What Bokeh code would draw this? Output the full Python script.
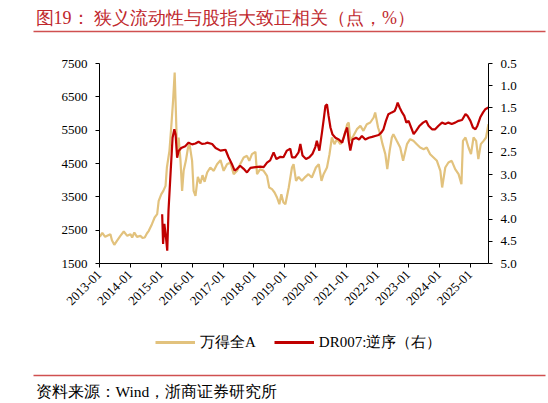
import math
import pandas as pd
from bokeh.plotting import figure
from bokeh.layouts import column, row
from bokeh.models import (Range1d, LinearAxis, FixedTicker, Legend, LegendItem, Label, BoxAnnotation,
                          DatetimeTickFormatter, PrintfTickFormatter, ColumnDataSource)
from bokeh.embed import file_html
from bokeh.resources import INLINE

# ---------------- data ----------------
wind_dates = [
    "2013-01-04", "2013-02-03", "2013-03-09", "2013-04-08", "2013-05-10", "2013-05-28", "2013-06-25",
    "2013-07-26", "2013-09-05", "2013-10-15", "2013-11-25", "2014-01-03", "2014-01-22", "2014-02-17",
    "2014-03-20", "2014-04-29", "2014-05-25", "2014-06-20", "2014-07-15", "2014-08-07", "2014-09-13",
    "2014-10-15", "2014-11-14", "2014-12-02", "2015-01-02", "2015-01-26", "2015-02-21", "2015-03-09",
    "2015-04-08", "2015-04-29", "2015-05-21", "2015-06-09", "2015-06-23", "2015-07-08", "2015-07-26",
    "2015-08-17", "2015-09-05", "2015-09-23", "2015-10-19", "2015-11-14", "2015-12-02", "2016-01-01",
    "2016-01-19", "2016-02-10", "2016-03-09", "2016-04-08", "2016-05-03", "2016-05-28", "2016-06-27",
    "2016-08-03", "2016-09-13", "2016-10-22", "2016-12-02", "2017-01-08", "2017-02-17", "2017-03-27",
    "2017-05-07", "2017-06-16", "2017-07-22", "2017-09-02", "2017-10-11", "2017-11-07", "2017-12-09",
    "2018-01-19", "2018-02-07", "2018-03-16", "2018-04-26", "2018-06-05", "2018-07-01", "2018-08-03",
    "2018-09-02", "2018-10-01", "2018-10-29", "2018-11-21", "2018-12-16", "2019-01-08", "2019-02-17",
    "2019-03-27", "2019-04-15", "2019-05-14", "2019-06-13", "2019-07-22", "2019-09-02", "2019-10-08",
    "2019-11-17", "2020-01-04", "2020-02-07", "2020-03-10", "2020-04-04", "2020-05-14", "2020-06-13",
    "2020-07-11", "2020-08-10", "2020-09-09", "2020-10-19", "2020-11-28", "2021-01-08", "2021-01-26",
    "2021-02-14", "2021-03-23", "2021-05-03", "2021-06-13", "2021-07-19", "2021-08-28", "2021-10-08",
    "2021-11-17", "2021-12-05", "2022-01-08", "2022-02-03", "2022-03-02", "2022-04-04", "2022-04-27",
    "2022-05-25", "2022-06-20", "2022-07-08", "2022-08-17", "2022-09-27", "2022-10-31", "2022-12-16",
    "2023-01-22", "2023-03-02", "2023-04-11", "2023-05-21", "2023-07-01", "2023-08-07", "2023-09-16",
    "2023-10-26", "2023-12-05", "2024-01-15", "2024-02-05", "2024-03-13", "2024-04-19", "2024-05-28",
    "2024-07-08", "2024-08-17", "2024-09-20", "2024-10-08", "2024-11-07", "2024-12-13", "2025-01-11",
    "2025-02-10", "2025-03-13", "2025-04-08", "2025-05-07", "2025-06-09", "2025-07-08", "2025-08-05",
]
wind_values = [
    2300, 2420, 2300, 2340, 2380, 2200, 2060,
    2180, 2330, 2460, 2330, 2380, 2280, 2430,
    2300, 2330, 2270, 2280, 2400, 2480, 2680,
    2880, 2980, 3380, 3580, 3680, 3830, 4380,
    4880, 5580, 6380, 7230, 6080, 4780, 5280,
    4580, 3680, 4280, 4580, 4980, 5080, 4580,
    3680, 3530, 4100, 3900, 4150, 3950, 4230,
    4380, 4280, 4480, 4600, 4280, 4480, 4530,
    4180, 4280, 4480, 4680, 4730, 4580, 4780,
    4850, 4180, 4330, 4280, 4130, 3780, 3730,
    3630, 3480, 3280, 3580, 3330, 3280, 3780,
    4380, 4480, 3980, 4100, 3980, 4100, 4180,
    4080, 4380, 4480, 3980, 4180, 4380, 4780,
    5280, 5080, 5230, 5080, 5280, 5680, 5730,
    5180, 5330, 5530, 5630, 5480, 5680, 5730,
    5880, 6030, 5580, 5380, 5080, 4780, 4330,
    4880, 5280, 5380, 5180, 4980, 4580, 5080,
    5230, 5180, 5080, 4980, 4930, 4980, 4780,
    4680, 4580, 4280, 3780, 4380, 4530, 4580,
    4330, 4180, 3880, 5180, 5280, 4980, 4780,
    5280, 5180, 4630, 5080, 5180, 5280, 5680,
]

dr_dates = [
    "2015-01-12", "2015-01-23", "2015-02-07", "2015-02-28", "2015-03-13", "2015-03-28", "2015-04-23",
    "2015-05-15", "2015-06-05", "2015-06-20", "2015-07-08", "2015-07-26", "2015-08-25", "2015-10-12",
    "2015-11-21", "2016-01-01", "2016-02-10", "2016-03-17", "2016-04-26", "2016-06-06", "2016-06-27",
    "2016-08-25", "2016-10-05", "2016-12-02", "2017-01-30", "2017-03-07", "2017-04-15", "2017-05-18",
    "2017-06-16", "2017-07-22", "2017-09-02", "2017-10-11", "2017-11-21", "2018-01-19", "2018-03-16",
    "2018-04-26", "2018-06-05", "2018-07-12", "2018-08-22", "2018-09-24", "2018-11-10", "2018-12-16",
    "2019-01-26", "2019-03-07", "2019-03-27", "2019-05-03", "2019-06-13", "2019-07-04", "2019-07-30",
    "2019-09-09", "2019-10-19", "2019-11-25", "2019-12-28", "2020-01-15", "2020-02-14", "2020-03-16",
    "2020-04-08", "2020-04-26", "2020-05-14", "2020-06-02", "2020-06-24", "2020-07-19", "2020-08-22",
    "2020-10-01", "2020-11-10", "2020-12-16", "2021-01-08", "2021-01-26", "2021-02-14", "2021-03-13",
    "2021-04-22", "2021-05-29", "2021-07-01", "2021-08-10", "2021-09-20", "2021-10-30", "2021-12-05",
    "2022-01-15", "2022-02-17", "2022-03-13", "2022-04-11", "2022-05-10", "2022-06-20", "2022-07-23",
    "2022-08-10", "2022-08-28", "2022-09-20", "2022-10-19", "2022-11-14", "2022-12-09", "2023-01-04",
    "2023-02-03", "2023-03-05", "2023-04-05", "2023-05-15", "2023-06-24", "2023-07-30", "2023-08-28",
    "2023-10-08", "2023-11-14", "2023-12-24", "2024-02-03", "2024-03-13", "2024-04-19", "2024-05-28",
    "2024-07-08", "2024-08-17", "2024-09-27", "2024-11-07", "2024-12-02", "2025-01-04", "2025-02-03",
    "2025-03-05", "2025-03-28", "2025-05-01", "2025-06-03", "2025-06-28", "2025-08-05",
]
dr_values = [
    3.89, 4.56, 4.11, 4.45, 4.71, 3.81, 2.91,
    2.17, 1.98, 2.10, 2.62, 2.47, 2.40, 2.36,
    2.28, 2.32, 2.30, 2.26, 2.31, 2.30, 2.28,
    2.31, 2.40, 2.46, 2.44, 2.61, 2.76, 2.91,
    2.87, 2.80, 2.87, 2.95, 2.85, 2.83, 2.82,
    2.83, 2.73, 2.68, 2.50, 2.65, 2.60, 2.61,
    2.46, 2.42, 2.61, 2.61, 2.50, 2.31, 2.57,
    2.65, 2.61, 2.53, 2.38, 2.24, 2.46, 2.05,
    1.72, 1.45, 1.42, 1.68, 1.94, 2.10, 2.17,
    2.21, 2.28, 2.05, 1.94, 2.24, 2.46, 2.21,
    2.17, 2.21, 2.13, 2.21, 2.17, 2.15, 2.13,
    2.11, 2.05, 1.98, 1.79, 1.64, 1.60, 1.57,
    1.49, 1.38, 1.49, 1.60, 1.68, 1.83, 1.79,
    1.94, 2.09, 2.01, 1.90, 1.83, 1.79, 1.90,
    1.98, 1.98, 1.90, 1.83, 1.86, 1.83, 1.86,
    1.83, 1.79, 1.77, 1.64, 1.68, 1.79, 1.94,
    1.98, 1.90, 1.71, 1.60, 1.53, 1.49,
]

tick_years = list(range(2013, 2026))
left_ticks = [1500, 2500, 3500, 4500, 5500, 6500, 7500]
right_ticks = [0.5, 1.0, 1.5, 2.0, 2.5, 3.0, 3.5, 4.0, 4.5, 5.0]

series_names = ["万得全A", "DR007:逆序（右）"]
title_text = "图19：  狭义流动性与股指大致正相关（点，%）"
source_text = "资料来源：Wind，浙商证券研究所"

# ---------------- styles ----------------
YELLOW = "#E2C27D"
RED = "#C00000"
TITLE_RED = "#C0282D"
RULE_RED = "#D05050"
FONT = "Liberation Serif"
W = 548
HEAD_H, MAIN_H, LEG_H, SRC_H = 40, 285, 52, 26


def strip(h):
    # frame spans the whole strip; data units equal pixels (x from left, y from bottom)
    f = figure(width=W, height=h, output_backend="svg", toolbar_location=None,
               x_range=Range1d(0, W), y_range=Range1d(0, h),
               x_axis_location=None, y_axis_location=None,
               min_border=0, min_border_left=0, min_border_right=0,
               min_border_top=0, min_border_bottom=0)
    f.xgrid.visible = False
    f.ygrid.visible = False
    f.outline_line_color = None
    f.background_fill_color = "white"
    f.border_fill_color = "white"
    return f


def rule(f, y):
    f.add_layout(BoxAnnotation(left=33, right=545, bottom=y - 0.75, top=y + 0.75,
                               fill_color=RULE_RED, fill_alpha=1.0, line_color=None))


# ---------------- header: title + rule ----------------
head = strip(HEAD_H)
head.add_layout(Label(x=35, y=HEAD_H - 17, text=title_text, text_baseline="middle",
                      text_color=TITLE_RED, text_font=FONT, text_font_size="18px"))
rule(head, HEAD_H - 31)

# ---------------- main chart ----------------
wind_src = ColumnDataSource(dict(date=pd.to_datetime(wind_dates), v=wind_values))
dr_src = ColumnDataSource(dict(date=pd.to_datetime(dr_dates), v=dr_values))

p = figure(width=W, height=MAIN_H, output_backend="svg", toolbar_location=None,
           x_axis_type="datetime",
           x_range=Range1d(pd.Timestamp("2013-01-01"), pd.Timestamp("2025-08-06")),
           y_range=Range1d(left_ticks[0], left_ticks[-1]),
           min_border_left=99, min_border_right=W - 488, min_border_top=23,
           min_border_bottom=MAIN_H - 223)
p.extra_y_ranges = {"dr": Range1d(right_ticks[-1], right_ticks[0])}
p.add_layout(LinearAxis(y_range_name="dr"), "right")

p.xgrid.visible = False
p.ygrid.visible = False
p.outline_line_color = None
p.background_fill_color = "white"
p.border_fill_color = "white"

p.xaxis.ticker = FixedTicker(ticks=[pd.Timestamp(f"{y}-01-01").value // 10**6 for y in tick_years])
p.xaxis.formatter = DatetimeTickFormatter(
    milliseconds="%Y-%m", seconds="%Y-%m", minsec="%Y-%m", minutes="%Y-%m", hourmin="%Y-%m",
    hours="%Y-%m", days="%Y-%m", months="%Y-%m", years="%Y-%m")
p.xaxis.major_label_orientation = math.pi / 4
p.yaxis[0].ticker = FixedTicker(ticks=left_ticks)
p.yaxis[1].ticker = FixedTicker(ticks=right_ticks)
p.yaxis[1].formatter = PrintfTickFormatter(format="%.1f")

for ax in list(p.xaxis) + list(p.yaxis):
    ax.axis_line_color = "black"
    ax.axis_line_width = 1
    ax.major_tick_line_color = "black"
    ax.major_tick_in = 0
    ax.major_tick_out = 4
    ax.minor_tick_line_color = None
    ax.major_label_text_font = FONT
    ax.major_label_text_font_size = "13px"
    ax.major_label_text_color = "black"
    ax.major_label_standoff = 8
p.xaxis.major_label_standoff = 5

r1 = p.line(x="date", y="v", source=wind_src, line_color=YELLOW, line_width=2.2)
r2 = p.line(x="date", y="v", source=dr_src, line_color=RED, line_width=2.2, y_range_name="dr")

# ---------------- legend strip + rule ----------------
leg = strip(LEG_H)
k1 = leg.line(x=[-50, -40], y=[-50, -40], line_color=YELLOW, line_width=3)
k2 = leg.line(x=[-50, -40], y=[-50, -40], line_color=RED, line_width=3)
legend = Legend(items=[LegendItem(label=series_names[0], renderers=[k1]),
                       LegendItem(label=series_names[1], renderers=[k2])],
                orientation="horizontal", location=(155, LEG_H - 27),
                glyph_width=40, glyph_height=20, label_height=20, label_standoff=5, spacing=18,
                padding=0, margin=0, border_line_color=None, background_fill_alpha=0,
                label_text_font=FONT, label_text_font_size="15px", label_text_color="black")
leg.add_layout(legend)
rule(leg, LEG_H - 50)

# ---------------- source strip ----------------
src = strip(SRC_H)
src.add_layout(Label(x=35, y=SRC_H - 14, text=source_text, text_baseline="middle",
                     text_color="black", text_font=FONT, text_font_size="15.5px"))

layout = column(row(head), row(p), row(leg), row(src), spacing=0)
open("out.html", "w").write(file_html(layout, INLINE))
